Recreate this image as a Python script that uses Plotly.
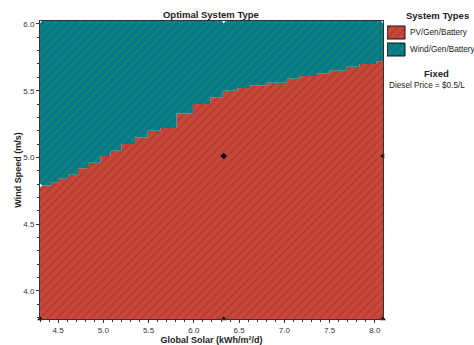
import plotly.graph_objects as go

# Boundary between optimal system types
solar = [4.30, 4.42, 4.50, 4.61, 4.72, 4.83, 4.97, 5.08, 5.20, 5.35, 5.49, 5.63, 5.81, 5.99,
         6.18, 6.32, 6.48, 6.62, 6.81, 7.03, 7.17, 7.36, 7.50, 7.69, 7.83, 8.02, 8.09]
wind_boundary = [4.79, 4.81, 4.84, 4.87, 4.92, 4.96, 5.01, 5.05, 5.10, 5.15, 5.20, 5.22, 5.33, 5.40,
                 5.45, 5.50, 5.52, 5.54, 5.56, 5.59, 5.61, 5.63, 5.65, 5.68, 5.70, 5.72, 5.72]
solar_range = [4.30, 8.09]
wind_range = [3.79, 6.022]

# Sensitivity points
pts_solar = [4.30, 6.33, 8.09, 4.30, 6.33, 8.09, 4.30, 6.33, 8.09]
pts_wind = [3.79, 3.79, 3.79, 4.79, 5.01, 5.01, 6.022, 6.022, 6.022]
pts_color = ["black", "black", "black", "white", "black", "black", "white", "white", "white"]
pts_symbol = ["triangle-up", "triangle-up", "triangle-up", "triangle-right", "diamond",
              "triangle-left", "triangle-down", "triangle-down", "triangle-down"]

series_names = ["PV/Gen/Battery", "Wind/Gen/Battery"]
legend_title = "System Types"
fixed_title = "Fixed"
fixed_text = "Diesel Price = $0.5/L"

RED, RED_STRIPE = "#c8473b", "#96302a"
TEAL, TEAL_STRIPE = "#05778e", "#1f9e3e"

fig = go.Figure()
fig.add_trace(go.Scatter(
    x=solar, y=wind_boundary, mode="lines", line=dict(width=0, shape="hv"),
    fill="tozeroy", fillcolor=RED,
    fillpattern=dict(shape="/", fgcolor=RED_STRIPE, bgcolor=RED, size=6, solidity=0.3),
    name=series_names[0], hoverinfo="skip", showlegend=False))
fig.add_trace(go.Scatter(
    x=solar, y=[wind_range[1] + 0.2] * len(solar), mode="lines", line=dict(width=0, shape="hv"),
    fill="tonexty", fillcolor=TEAL,
    fillpattern=dict(shape="/", fgcolor=TEAL_STRIPE, bgcolor=TEAL, size=6, solidity=0.3),
    name=series_names[1], hoverinfo="skip", showlegend=False))
fig.add_trace(go.Scatter(
    x=pts_solar, y=pts_wind, mode="markers",
    marker=dict(symbol=pts_symbol, size=5, color=pts_color, line=dict(width=0)),
    showlegend=False, hoverinfo="skip", cliponaxis=False))

# Legend keys drawn on a helper axis (units = pixels inside the legend panel)
key_x = [0, 18, 18, 0, 0]
key_y = [[5, 5, 18, 18, 5], [22, 22, 35, 35, 22]]
for ky, bg, fg in zip(key_y, [RED, TEAL], [RED_STRIPE, TEAL_STRIPE]):
    fig.add_trace(go.Scatter(
        x=key_x, y=ky, mode="lines", fill="toself", fillcolor=bg,
        fillpattern=dict(shape="/", fgcolor=fg, bgcolor=bg, size=6, solidity=0.3),
        line=dict(color="#111", width=1), xaxis="x2", yaxis="y2",
        showlegend=False, hoverinfo="skip"))

axis_common = dict(
    showgrid=False, zeroline=False, showline=True, linecolor="#333", linewidth=1, mirror=True,
    ticks="outside", ticklen=3, tickcolor="#333", tickwidth=1, tickformat=".1f", automargin=False,
    tickfont=dict(size=8, color="#333", family="Liberation Sans, Arial"),
    minor=dict(ticks="outside", ticklen=2, tickcolor="#333", dtick=0.1),
)
fig.update_layout(
    xaxis=dict(domain=[0, 343 / 434], range=solar_range, dtick=0.5, tick0=4.5,
               title=dict(text="<b>Global Solar (kWh/m²/d)</b>", font=dict(size=9, color="#222"), standoff=0),
               **axis_common),
    yaxis=dict(range=wind_range, dtick=0.5, tick0=4.0,
               title=dict(text="<b>Wind Speed (m/s)</b>", font=dict(size=9, color="#222"), standoff=0),
               **axis_common),
    xaxis2=dict(domain=[347 / 434, 1], range=[0, 87], visible=False, fixedrange=True),
    yaxis2=dict(domain=[0, 1], range=[298, 0], visible=False, fixedrange=True, anchor="x2"),
)

fig.update_layout(
    width=474, height=345,
    margin=dict(l=40, r=0, t=21, b=26),
    paper_bgcolor="white", plot_bgcolor="white",
    font=dict(family="Liberation Sans, Arial", color="#222"),
    title=dict(text="<b>Optimal System Type</b>", x=0.445, xanchor="center", y=1 - 15 / 345, yanchor="middle",
               font=dict(size=9.5, color="#222")),
    showlegend=False,
    annotations=[
        dict(text="<b>" + legend_title + "</b>", xref="paper", yref="paper", x=0.9159, y=1.0201,
             xanchor="center", yanchor="middle", showarrow=False, font=dict(size=9.5, color="#222")),
        dict(text=series_names[0], xref="paper", yref="paper", x=0.848, y=0.963,
             xanchor="left", yanchor="middle", showarrow=False, font=dict(size=8.2, color="#222")),
        dict(text=series_names[1], xref="paper", yref="paper", x=0.848, y=0.906,
             xanchor="left", yanchor="middle", showarrow=False, font=dict(size=8.2, color="#222")),
        dict(text="<b>" + fixed_title + "</b>", xref="paper", yref="paper", x=0.9136, y=0.8255,
             xanchor="center", yanchor="middle", showarrow=False, font=dict(size=9.5, color="#222")),
        dict(text=fixed_text, xref="paper", yref="paper", x=0.7995, y=0.7819,
             xanchor="left", yanchor="middle", showarrow=False, font=dict(size=8.2, color="#222")),
    ],
)

fig.write_html("out.html", config={"displayModeBar": False},
               post_script="document.body.style.margin='0';")
